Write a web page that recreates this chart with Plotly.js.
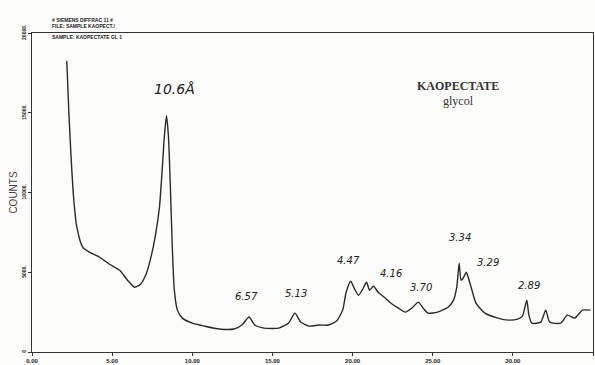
<!DOCTYPE html>
<html>
<head>
<meta charset="utf-8">
<script src="https://cdn.plot.ly/plotly-3.0.1.min.js"></script>
<style>
html,body{margin:0;padding:0;background:#fcfcfa;}
#chart{width:595px;height:365px;}
</style>
</head>
<body>
<div id="chart"></div>
<script>
// 2-theta (degrees) and counts
const twoTheta = [2.17,2.30,2.45,2.61,2.80,3.17,3.60,4.22,4.84,5.47,5.96,6.40,6.77,7.14,7.45,7.70,7.95,8.14,8.26,8.39,8.51,8.63,8.76,8.88,9.07,9.38,10.0,10.75,11.68,12.6,13.1,13.54,13.9,14.47,15.4,16.0,16.4,16.77,17.27,17.9,18.5,19.0,19.38,19.6,19.88,20.1,20.37,20.6,20.87,21.06,21.3,21.6,22.05,22.4,22.86,23.3,23.7,24.1,24.4,24.7,25.3,25.96,26.3,26.5,26.65,26.77,26.9,27.1,27.27,27.45,27.7,28.26,29.07,29.7,30.3,30.6,30.87,31.0,31.18,31.74,32.05,32.3,32.98,33.4,33.85,34.35,34.84];
const counts   = [18250,15000,12000,9500,7810,6560,6250,5940,5500,5125,4500,4060,4250,4940,6060,7310,9060,11690,13560,14810,13560,10440,6375,3875,2625,2125,1810,1625,1440,1440,1690,2190,1690,1500,1500,1810,2440,1875,1625,1690,1690,1940,2625,3750,4440,4000,3560,3875,4375,3875,4125,3750,3375,3060,2750,2500,2750,3125,2750,2440,2500,2810,3250,4060,5560,4500,4625,5000,4500,3875,3060,2440,2125,2000,2060,2250,3250,2310,1810,1875,2625,1875,1810,2310,2125,2625,2625];

const xTickVals = [0,5,10,15,20,25,30,35];
const xTickText = ["0.00","5.00","10.00","15.00","20.00","25.00","30.00","35"];
const yTickVals = [0,5000,10000,15000,20000];
const yTickText = ["0","5000.","10000.","15000.","20000."];

const peakLabels = ["10.6Å","6.57","5.13","4.47","4.16","3.70","3.34","3.29","2.89"];
const peakLabelX = [8.89,13.36,16.47,19.76,22.37,24.24,26.72,28.46,31.0];
const peakLabelY = [16500,3500,3690,5750,4940,4060,7190,5625,4190];
const peakLabelSize = [14,10,10,10,10,10,10,10,10];

const headerLines = ["# SIEMENS DIFFRAC 11 #","FILE: SAMPLE KAOPECT./","SAMPLE: KAOPECTATE GL 1"];
const headerPy = [20,26,37];

const sampleName = "KAOPECTATE";
const treatment = "glycol";

const L = 32, T = 33, W = 561, H = 319;
const annotations = [];
peakLabels.forEach((t,i)=>annotations.push({
  text:t, x:peakLabelX[i], y:peakLabelY[i], xref:'x', yref:'y', showarrow:false,
  font:{family:'DejaVu Sans', size:peakLabelSize[i], color:'#222', style:'italic'}
}));
headerLines.forEach((t,i)=>annotations.push({
  text:'<b>'+t+'</b>', x:(50-L)/W, y:(352-headerPy[i])/H, xref:'paper', yref:'paper',
  xanchor:'left', yanchor:'middle', showarrow:false,
  font:{family:'Liberation Sans', size:5, color:'#222'}
}));
annotations.push({text:'<b>'+sampleName+'</b>', x:26.6, y:16690, xref:'x', yref:'y', showarrow:false,
  font:{family:'Liberation Serif', size:12, color:'#333'}});
annotations.push({text:treatment, x:26.6, y:15750, xref:'x', yref:'y', showarrow:false,
  font:{family:'Liberation Serif', size:12, color:'#333'}});

const trace = {
  x: twoTheta, y: counts, type:'scatter', mode:'lines',
  line:{color:'#2a2a2a', width:1.4, shape:'spline', smoothing:0.6},
  hoverinfo:'skip'
};

const layout = {
  width:595, height:365,
  margin:{l:L, r:2, t:T, b:13},
  paper_bgcolor:'#fcfcfa', plot_bgcolor:'#fcfcfa',
  showlegend:false,
  xaxis:{range:[0,35], showgrid:false, zeroline:false, showline:true, linecolor:'#333', linewidth:1.2,
    mirror:true, ticks:'outside', ticklen:3, tickcolor:'#333',
    tickvals:xTickVals, ticktext:xTickText,
    tickfont:{family:'Liberation Sans', size:6, color:'#222', weight:'bold'}},
  yaxis:{range:[0,20000], showgrid:false, zeroline:false, showline:true, linecolor:'#333', linewidth:1.2,
    mirror:true, ticks:'outside', ticklen:3, tickcolor:'#333',
    tickvals:yTickVals, ticktext:yTickText, tickangle:-90,
    tickfont:{family:'Liberation Sans', size:5, color:'#222', weight:'bold'},
    title:{text:'COUNTS', font:{family:'Liberation Sans', size:10, color:'#444'}, standoff:1}},
  annotations: annotations
};

Plotly.newPlot('chart',[trace],layout,{staticPlot:true, displayModeBar:false});
</script>
</body>
</html>
